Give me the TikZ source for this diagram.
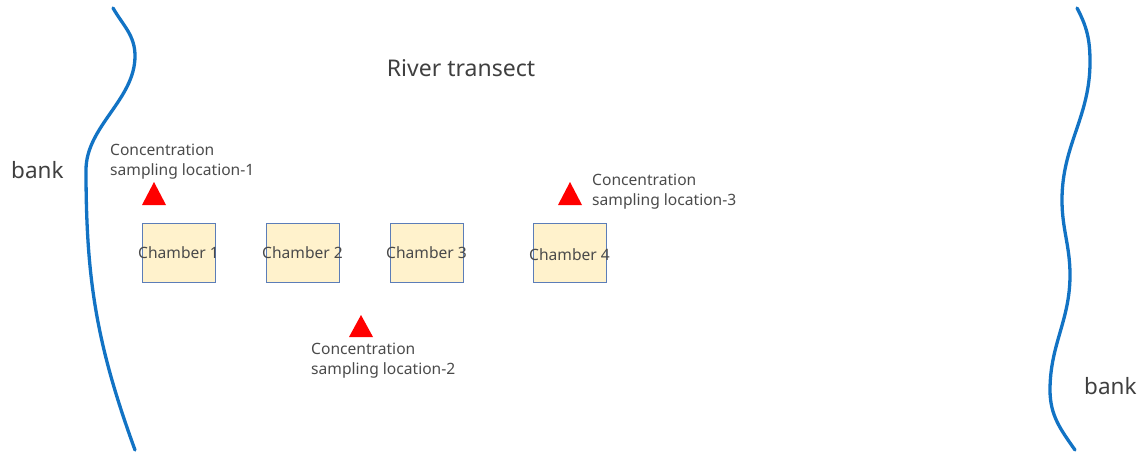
\documentclass[tikz,border=0pt]{standalone}
\usepackage{fontspec}
\setmainfont{Noto Sans}
\definecolor{riverblue}{HTML}{1273C4}
\definecolor{chamberfill}{HTML}{FFF2CC}
\definecolor{chamberedge}{HTML}{5B7DB8}
\definecolor{labelgray}{HTML}{4A4A4A}
\tikzset{
  bankline/.style={draw=riverblue, line width=3.3pt, line cap=round},
  chamber/.style={draw=chamberedge, fill=chamberfill, line width=0.9pt,
    minimum width=73pt, minimum height=59pt, inner sep=0pt},
  chambertext/.style={font=\fontsize{15.6}{16}\selectfont, text=labelgray},
  sampler/.style={fill=red, draw=none},
  samplelabel/.style={font=\fontsize{15.6}{20}\selectfont, text=labelgray,
    align=left, inner sep=0pt, anchor=north west},
  banklabel/.style={font=\fontsize{22.5}{24}\selectfont, text=labelgray!85!black, inner sep=0pt},
}
\begin{document}
\begin{tikzpicture}[x=1pt, y=-1pt]
  \useasboundingbox (0,0) rectangle (1143,452);

  % river banks
  \draw[bankline] (113,8) to[out=-60,in=90] (135,56)
    to[out=-90,in=90,looseness=0.9] (86,170)
    to[out=-90,in=110] (135,450);
  \draw[bankline] (1077,8) to[out=-62,in=90] (1090,62)
    to[out=-90,in=90] (1062,200)
    to[out=-90,in=90] (1070,275)
    to[out=-90,in=90] (1050,390)
    to[out=-90,in=125] (1075,450);

  \node[banklabel, anchor=west] (bankL) at (11,170) {bank};
  \node[banklabel, anchor=west] (bankR) at (1084,386) {bank};

  \node[font=\fontsize{23}{26}\selectfont, text=labelgray!85!black] (title) at (461,68) {River transect};

  % chambers
  \node[chamber] (c1) at (178.5,252.5) {};
  \node[chamber] (c2) at (302.5,252.5) {};
  \node[chamber] (c3) at (426.5,252.5) {};
  \node[chamber] (c4) at (569.5,252.5) {};
  \node[chambertext] (t1) at (c1) {Chamber 1};
  \node[chambertext] (t2) at (c2) {Chamber 2};
  \node[chambertext] (t3) at (c3) {Chamber 3};
  \node[chambertext] (t4) at ([yshift=-2.5pt]c4) {Chamber 4};

  % concentration sampling points
  \fill[sampler] (142,205) -- (166,205) -- (154,182) -- cycle;
  \fill[sampler] (349,337) -- (373,337) -- (361,315) -- cycle;
  \fill[sampler] (558,205) -- (582,205) -- (570,182) -- cycle;

  \node[samplelabel] (s1) at (110,143.5) {Concentration\\sampling location-1};
  \node[samplelabel] (s2) at (311,342.5) {Concentration\\sampling location-2};
  \node[samplelabel] (s3) at (592,173.5) {Concentration\\sampling location-3};
\end{tikzpicture}
\end{document}
